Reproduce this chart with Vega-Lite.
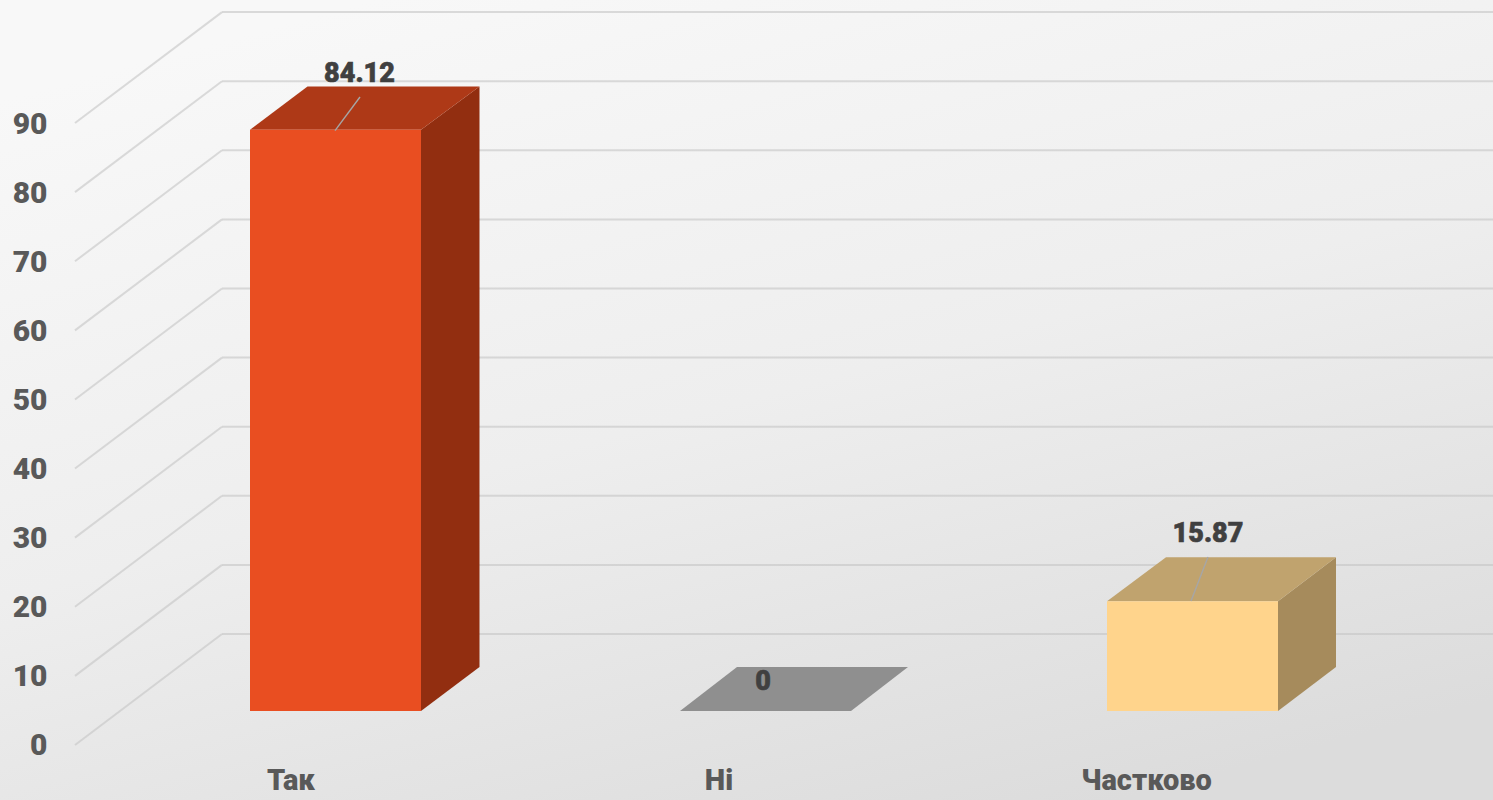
{
"$schema":"https://vega.github.io/schema/vega-lite/v6.json",
"width":1493,"height":800,"padding":0,
"autosize":"none",
"background":"#e6e6e6",
"view":{"stroke":null,"fill":{"gradient":"linear","x1":0.25,"y1":0,"x2":0.75,"y2":1,"stops":[{"offset":0,"color":"#f8f8f8"},{"offset":0.5,"color":"#eeeeee"},{"offset":1,"color":"#dcdcdc"}]}},
"config":{"axisY":{"domain":false,"ticks":false,"grid":false,"labelOffset":112,"labelPadding":-47,"labelAlign":"right","labelFont":"Roboto","labelFontWeight":900,"labelFontSize":30,"labelColor":"#595959","labelOverlap":false,"labelBound":false,"labelFlush":false}},
"datasets":{
"wall":[{"v":0},{"v":10},{"v":20},{"v":30},{"v":40},{"v":50},{"v":60},{"v":70},{"v":80},{"v":90}],
"side":[
{"v":0,"x":75,"y":-16.06,"g":"0"},{"v":0,"x":222,"y":0,"g":"0"},
{"v":10,"x":75,"y":-6.06,"g":"10"},{"v":10,"x":222,"y":10,"g":"10"},
{"v":20,"x":75,"y":3.94,"g":"20"},{"v":20,"x":222,"y":20,"g":"20"},
{"v":30,"x":75,"y":13.94,"g":"30"},{"v":30,"x":222,"y":30,"g":"30"},
{"v":40,"x":75,"y":23.94,"g":"40"},{"v":40,"x":222,"y":40,"g":"40"},
{"v":50,"x":75,"y":33.94,"g":"50"},{"v":50,"x":222,"y":50,"g":"50"},
{"v":60,"x":75,"y":43.94,"g":"60"},{"v":60,"x":222,"y":60,"g":"60"},
{"v":70,"x":75,"y":53.94,"g":"70"},{"v":70,"x":222,"y":70,"g":"70"},
{"v":80,"x":75,"y":63.94,"g":"80"},{"v":80,"x":222,"y":80,"g":"80"},
{"v":90,"x":75,"y":73.94,"g":"90"},{"v":90,"x":222,"y":90,"g":"90"}
],
"front":[
{"category":"Так","value":84.12,"left":250,"right":421,"top":72.98,"bottom":-11.14},
{"category":"Частково","value":15.87,"left":1107,"right":1278,"top":4.73,"bottom":-11.14}
],
"topface":[
{"category":"Так","face":"Так top","y":72.98,"x1":250,"x2":421},
{"category":"Так","face":"Так top","y":79.25,"x1":307.5,"x2":479.5},
{"category":"Ні","face":"Ні top","y":-11.14,"x1":680,"x2":851},
{"category":"Ні","face":"Ні top","y":-4.78,"x1":737,"x2":908},
{"category":"Частково","face":"Частково top","y":4.73,"x1":1107,"x2":1278},
{"category":"Частково","face":"Частково top","y":11.1,"x1":1166,"x2":1336}
],
"sideface":[
{"category":"Так","face":"Так side","x":421,"y1":72.98,"y2":-11.14},
{"category":"Так","face":"Так side","x":479.5,"y1":79.25,"y2":-4.78},
{"category":"Частково","face":"Частково side","x":1278,"y1":4.73,"y2":-11.14},
{"category":"Частково","face":"Частково side","x":1336,"y1":11.1,"y2":-4.78}
],
"leaders":[
{"category":"Так","x1":335,"x2":360,"y1":72.84,"y2":77.71},
{"category":"Частково","x1":1191,"x2":1208,"y1":4.78,"y2":11.14}
],
"valueLabels":[
{"category":"Так","value":84.12,"x":359.5,"y":81.1},
{"category":"Ні","value":0,"x":763,"y":-6.9},
{"category":"Частково","value":15.87,"x":1208,"y":14.5}
],
"catLabels":[
{"category":"Так","x":291,"y":-21.3},
{"category":"Ні","x":719,"y":-21.3},
{"category":"Частково","x":1146.5,"y":-21.3}
]
},
"layer":[
{"data":{"name":"wall"},"mark":{"type":"rule","color":"#c4c4c4","strokeWidth":2,"opacity":0.6},
"encoding":{
"x":{"datum":222,"type":"quantitative","scale":{"domain":[0,1493],"nice":false,"zero":false},"axis":null},
"x2":{"datum":1493},
"y":{"field":"v","type":"quantitative","scale":{"domain":[-24.023,91.75],"nice":false,"zero":false},"axis":{"values":[0,10,20,30,40,50,60,70,80,90],"title":null}}
}},
{"data":{"name":"side"},"mark":{"type":"line","color":"#c4c4c4","strokeWidth":2,"opacity":0.6},
"encoding":{
"x":{"field":"x","type":"quantitative","axis":null},
"y":{"field":"y","type":"quantitative","axis":{"values":[0,10,20,30,40,50,60,70,80,90],"title":null}},
"detail":{"field":"g"}
}},
{"data":{"name":"sideface"},"mark":{"type":"area","orient":"vertical"},
"encoding":{
"x":{"field":"x","type":"quantitative","axis":null},
"y":{"field":"y1","type":"quantitative","axis":{"values":[0,10,20,30,40,50,60,70,80,90],"title":null}},
"y2":{"field":"y2"},
"detail":{"field":"face"},
"color":{"field":"category","scale":{"domain":["Так","Ні","Частково"],"range":["#922e10","#808080","#a68b5c"]},"legend":null}
}},
{"data":{"name":"topface"},"mark":{"type":"area","orient":"horizontal"},
"encoding":{
"y":{"field":"y","type":"quantitative","axis":{"values":[0,10,20,30,40,50,60,70,80,90],"title":null}},
"x":{"field":"x1","type":"quantitative","axis":null},
"x2":{"field":"x2"},
"detail":{"field":"face"},
"fill":{"field":"category","scale":{"domain":["Так","Ні","Частково"],"range":["#ae3917","#8f8f8f","#c0a36e"]},"legend":null}
}},
{"data":{"name":"front"},"mark":{"type":"rect"},
"encoding":{
"x":{"field":"left","type":"quantitative","axis":null},
"x2":{"field":"right"},
"y":{"field":"top","type":"quantitative","axis":{"values":[0,10,20,30,40,50,60,70,80,90],"title":null}},
"y2":{"field":"bottom"},
"stroke":{"value":null},
"fill":{"field":"category","scale":{"domain":["Так","Ні","Частково"],"range":["#e94e21","#a6a6a6","#ffd48c"]},"legend":null}
}},
{"data":{"name":"leaders"},"mark":{"type":"rule","color":"#a6a6a6","strokeWidth":1.4},
"encoding":{
"x":{"field":"x1","type":"quantitative","axis":null},
"x2":{"field":"x2"},
"y":{"field":"y1","type":"quantitative","axis":{"values":[0,10,20,30,40,50,60,70,80,90],"title":null}},
"y2":{"field":"y2"}
}},
{"data":{"name":"valueLabels"},"mark":{"type":"text","font":"Roboto","fontWeight":900,"fontSize":27,"color":"#404040","stroke":"#404040","strokeWidth":0.6,"align":"center","baseline":"middle"},
"encoding":{
"x":{"field":"x","type":"quantitative","axis":null},
"y":{"field":"y","type":"quantitative","axis":{"values":[0,10,20,30,40,50,60,70,80,90],"title":null}},
"text":{"field":"value","type":"quantitative"}
}},
{"data":{"name":"catLabels"},"mark":{"type":"text","font":"Roboto","fontWeight":900,"fontSize":29,"color":"#595959","align":"center","baseline":"middle"},
"encoding":{
"x":{"field":"x","type":"quantitative","axis":null},
"y":{"field":"y","type":"quantitative","axis":{"values":[0,10,20,30,40,50,60,70,80,90],"title":null}},
"text":{"field":"category"}
}}
],
"resolve":{"scale":{"color":"independent","fill":"independent"}}
}
